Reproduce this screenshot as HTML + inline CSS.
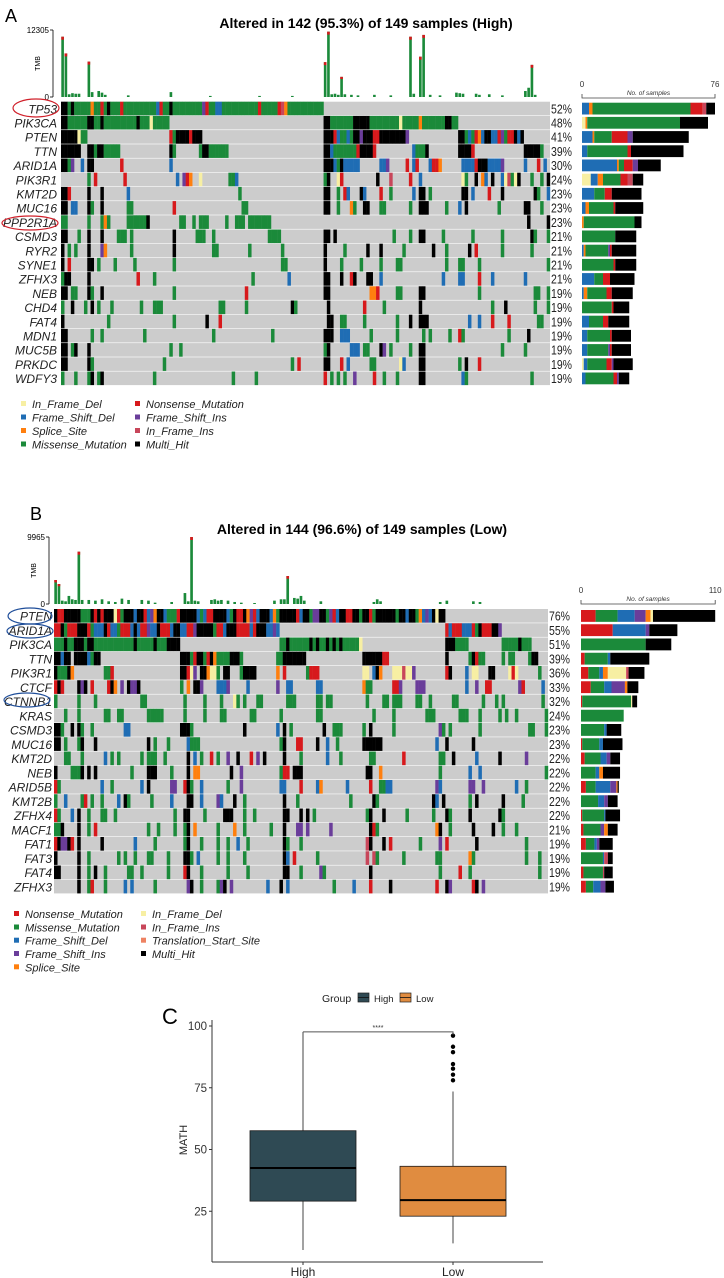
<!DOCTYPE html>
<html><head><meta charset="utf-8"><title>Oncoplots and MATH boxplot</title>
<style>
html,body{margin:0;padding:0;background:#fff;}
svg{display:block;font-family:"Liberation Sans",Arial,sans-serif;}
</style></head>
<body>
<svg id="fig" width="724" height="1278" viewBox="0 0 724 1278" xmlns="http://www.w3.org/2000/svg">
<rect x="0" y="0" width="724" height="1278" fill="#fff"/>
<text x="5" y="22" font-size="18">A</text>
<text x="366" y="28" font-size="14" font-weight="bold" text-anchor="middle">Altered in 142 (95.3%) of 149 samples (High)</text>
<text x="30" y="520" font-size="18">B</text>
<text x="362" y="534" font-size="14" font-weight="bold" text-anchor="middle">Altered in 144 (96.6%) of 149 samples (Low)</text>
<g id="panelA"></g>
<g id="panelB"></g>
<g id="panelC"></g>
</svg>
<script>
// ---------------- DATA ----------------
const N = 149;
const genesA = ["TP53","PIK3CA","PTEN","TTN","ARID1A","PIK3R1","KMT2D","MUC16","PPP2R1A","CSMD3","RYR2","SYNE1","ZFHX3","NEB","CHD4","FAT4","MDN1","MUC5B","PRKDC","WDFY3"];
const pctA = [52,48,41,39,30,24,23,23,23,21,21,21,21,19,19,19,19,19,19,19];
const rowsA = [
"0-1:k 2:g 3:k 4-8:g 9:o 10-11:g 12:r 13:g 14:k 15-17:g 18:r 19-28:g 29:b 30:r 31-32:g 33:k 34-42:g 43:p 44:r 45-46:g 47-48:b 49-59:g 60:r 61-65:g 66:r 67:m 68:o 69-79:g",
"0-1:k 2-7:g 8-9:k 10-11:g 12:k 13-22:g 23:k 24-26:g 27:y 28-32:g 80-81:k 82-88:g 89-93:k 94-102:g 103:y 104-108:g 109:o 110-116:g 117-118:k 119-120:g",
"0-4:k 5:y 6-7:g 33:r 34:g 35-38:k 39:r 40-42:k 80-82:k 83:r 84:b 85-86:g 87:b 88:g 89-90:k 91:p 92-94:k 95-96:r 97-104:k 105:p 121-122:k 123:g 124:b 125:g 126:r 127:o 128:b 129-130:k 131-132:b 133:r 134:p 135:g 136-137:r 138:k 139:b 140:k",
"0-5:k 8-9:k 10:g 11-12:k 13-17:g 33:k 34:g 42:g 43-44:k 45-50:g 80-81:k 82:b 83-89:g 90:r 91-94:k 95:r 107:b 108-110:g 111:k 121-124:k 125:r 141-145:k 146:g",
"0-1:k 2:g 3:p 6:b 8-9:k 18:r 33:b 80-82:k 83:b 84:g 85:k 86-90:b 97-98:b 99:p 105:r 107:b 108:r 112:b 113-114:r 115:o 122-125:b 126:r 127-129:k 130-133:b 134:p 141:b 145:r 147:b",
"8:g 10:r 19:r 35:b 37:p 38:r 39:o 42:y 51-52:g 53:b 80:g 81:k 84:y 85:r 96:k 100:m 106:r 109:b 122:y 123:g 126:k 128:o 129:b 131:k 134:b 135:y 136:m 137:g 138:y 139:k 143:g 146:g 148:k",
"0-1:k 2:r 8:k 12:k 20:b 54:g 80-81:k 84:g 86:r 87:b 91:k 92:b 97:r 100:g 107:b 109-110:k 112:g 122-123:k 125:b 130:r 134:k 144:k 145:g 148:b",
"0-1:k 3-4:b 8:k 9:g 12:k 20-21:g 34:r 55-56:g 80-81:k 84:g 88:o 89:g 92-93:k 97-98:g 106:g 109-111:k 117:g 121:b 123:k 133:g 141-142:k 146:g",
"0-1:g 8:g 12:g 13:o 14:g 20-25:g 26:k 36-37:g 40:g 42-44:g 50:g 53-55:g 57-63:g 142:k 148:k",
"0-1:k 5:g 8:k 12:k 17-19:g 21:g 34:k 41-43:g 46:g 63-66:g 80-81:k 83:k 101:g 106:g 109-110:k 116:g 125:g 134:g 143:k 144:g 148:g",
"0:k 2:g 4:g 8:k 12:p 13:o 21:g 34:k 46-47:g 57:g 67:g 80:k 86:g 93:k 97:k 104:g 113:k 117:g 124:k 126:r 134:g 143:g",
"0:k 2:r 8-9:k 11:g 16:g 22:g 34:g 67-68:g 80:k 85:g 91:g 97:g 102-103:g 117:g 121-122:g 127:g 148:g",
"0:g 1-2:k 8:k 23:r 28:g 58:g 69:b 80-81:k 85:k 88:r 89:k 93-94:k 97:b 116:b 121-122:b 127:r 131:b 141:b",
"0-1:k 3-4:g 8:k 9:g 12:k 34:g 56:r 80-81:k 94-95:o 96:r 102-103:g 109-110:k 127:g 144-145:g 148:g",
"0:g 3:k 7:g 9:k 11:g 15:g 24:g 28-30:g 48-49:g 56:g 70:k 71:g 81:k 92:r 98:g 109:k 131:g 135:k 144:g 148:g",
"0:k 14:g 34:g 44:k 48:r 81-82:k 85-86:g 92:g 102:g 106:k 109-111:k 124:b 127:b 131:r 136:r 145-146:g",
"0-1:k 9:g 12:g 25:g 46:g 64:g 80-82:k 85-87:b 94:g 102:g 110:g 112:g 118:g 121:r 122:g 136:g 142:k",
"0-1:k 3:g 4:k 8:k 33:g 36:g 80:g 81:k 88-90:b 92-93:g 97:k 98:p 100:g 106:g 109-110:k 134:g 141:g",
"0-1:k 8:k 9:g 31:g 70:g 72:r 80-81:k 85:r 87:b 94-95:g 103:y 104:b 109-110:k 121:g 123:k 127:r",
"0:g 4:g 8:g 9:k 11:g 12:k 28:g 52:g 59:g 80:r 82:g 84:g 86:g 89:p 95:r 98:g 102:g 109-110:k 122:b 123:g 143:g"
];
const barsA = ["b4 o2 g56 r7 m2 k5","y2 o1 g53 k16","b6 o1 g10 r9 p3 k32","b3 g23 r2 k30","b20 o1 g3 r5 p3 k13","y5 b4 o3 g10 r4 m3 k6","b7 g6 r4 k17","b2 o2 g14 r1 k16","o1 g29 k4","g19 k12","b1 o1 g13 p1 r1 k14","g18 r1 k12","b7 g5 r4 k14","b1 o2 g11 r3 k12","g17 r1 k9","b4 g8 r3 k12","b3 g13 r1 k11","b3 g12 p1 r1 k11","y1 b2 g11 r3 p1 k11","b2 g16 r2 p1 k6"];
const tmbA = [[0,11070],[1,8000],[2,500],[3,700],[4,600],[5,600],[8,6500],[9,900],[11,1100],[12,800],[13,400],[20,300],[33,900],[45,200],[60,200],[70,200],[80,6400],[81,12000],[82,500],[83,600],[84,400],[85,3700],[86,500],[88,400],[90,300],[95,400],[100,300],[106,11070],[107,600],[109,7400],[110,11400],[112,400],[115,300],[120,800],[121,700],[122,600],[126,600],[127,400],[130,500],[134,300],[141,1100],[142,1700],[143,5900],[144,400]];
const tmbAMax = 12305;

const genesB = ["PTEN","ARID1A","PIK3CA","TTN","PIK3R1","CTCF","CTNNB1","KRAS","CSMD3","MUC16","KMT2D","NEB","ARID5B","KMT2B","ZFHX4","MACF1","FAT1","FAT3","FAT4","ZFHX3"];
const pctB = [76,55,51,39,36,33,32,24,23,23,22,22,22,22,22,21,19,19,19,19];
const rowsB = [
"0:k 1-2:r 3-7:k 8-10:g 11:k 12:r 13:k 14:r 15-17:k 18:y 19:r 20:g 21-23:k 24:b 25-26:k 27:r 28:b 29:p 30:o 31-32:k 33:b 34-36:g 37:r 38-42:k 43:b 44:g 45:b 46-47:r 48-51:k 52:b 53:g 54:k 55-56:r 57:k 58:o 59:p 60:r 61:b 62-64:k 65:b 66:o 67:g 68-72:k 73:r 74:b 75-76:k 77:g 78-79:p 80-81:k 82:g 83:p 84:r 85:b 86-87:k 88-89:r 90-91:k 92:g 93-94:k 95:r 96:g 97-102:k 103:g 104-105:k 106:b 107-108:k 109:g 110:o 111:b 112:p 113:b 114:k 115:y 116-117:k",
"0-1:r 2:k 3:g 4-6:r 7-9:k 10:r 11:g 12-14:b 15:k 16:r 17-18:b 19:g 20-22:r 23:b 24:k 25:b 26-27:r 28:p 29-30:b 31:k 32-34:r 35:b 36-37:k 38-39:b 40-41:r 42:p 43-47:k 48:g 49-50:r 51:b 52-54:k 55-58:r 59:b 60:r 61-63:k 64-65:b 66:p 67:b 118:r 119:b 120-122:r 123-125:b 126:r 127:g 128:k 129-131:r 132-133:k 134:p",
"0-2:g 3:k 4-5:g 6-8:k 9:g 10-11:k 12-33:g 24:k 30:k 34-37:k 68-69:g 70:k 71-76:g 77:k 78:g 79:k 80-81:g 82:k 83:g 84:k 85:g 86:k 87-91:g 92:y 118-120:k 121-124:g 135-139:g 140:k 141-143:g",
"0-1:k 2:b 3-4:k 6-9:k 10:b 11:g 12-13:k 38-40:k 41:g 42:r 43-44:k 45:g 46:r 47:k 48:o 49-52:g 53-55:k 56:g 67-68:g 69-75:k 93-98:k 99-100:r 118:k 125:g 126:k 127:r 128-129:g 135:g 137-138:g 143:g 144-145:k",
"0:k 1-3:g 4:k 5:o 15:g 16:g 17:r 38-39:k 40:r 41:y 42:p 44-45:k 46:o 47-48:y 49:g 51-52:k 56:g 57-60:k 67:o 69:r 76:g 77-79:r 93-94:y 96:b 97:k 98:o 102-104:y 105:m 106-107:y 108:p 118:r 119:k 124:b 126-127:y 131-132:k 137:y 138:r 139:y 146:g",
"0:r 1:k 2:r 7:k 8:p 9:k 11:r 16:r 17:k 18:o 20:p 22:k 23-24:p 25:k 38:g 40:o 42-43:k 44:p 49-51:b 52:p 58:b 67:p 70-71:b 79-80:b 93:o 94-95:g 102-103:r 104:p 109-111:p 124:b 127:p 130-131:r 140:p 141:r 147:b",
"0:g 7:g 12:g 26-27:g 39:g 45:g 50:g 54:y 55:g 57:g 61-62:g 70-72:g 79-80:g 82-83:g 94:g 99-100:g 102-104:g 109-110:g 113:g 120-121:g 129:g 133:g 135:g 147:g",
"3:g 7:g 15-16:g 19-20:g 28-32:g 39:g 45:g 50-51:g 59-60:g 68:g 79-80:g 96:g 102:g 112-114:g 122-124:g 128:g 134:g 136:g 139:g 148:g",
"0-1:k 2:g 5:k 7:k 8:g 11:g 21-22:b 38-40:k 41:g 57:k 67:b 69:k 71:g 81:k 84-86:g 93:g 95:k 102:g 116:p 117:g 119:g 128:g 143-144:g 148:g",
"0-1:k 3:g 7:g 8:k 12:k 28:k 30:g 34:g 40:b 41-43:g 68:g 69:k 73-74:r 79:k 82:b 85:g 93-98:k 115:b 118:k 126:k",
"3-4:g 8:g 15:b 17:g 19:g 26:g 28-30:g 33:g 40:k 42:b 44:g 47:r 49:g 52:p 55:k 59:r 61:p 63:k 69:k 74:g 82:b 86:g 95-96:g 105:r 116-117:g 120:k 127:b 134:k 142:p",
"0:k 5-7:g 8:k 10:k 12:k 23:g 28-30:k 35:g 40:k 42-43:o 53:k 56:p 68:g 69-70:r 72-74:k 94-95:k 98:o 116:g 125:b 128:b 148:g",
"0:r 1:g 14:b 17:g 26:b 28:k 35-36:p 39:r 40:k 41:g 44:b 52:g 56:p 68-69:b 74:r 79:b 80:o 88:b 95:r 98-99:g 100-101:b 115:p 116:b 125-126:p 129:p 139:b 142:g",
"0:g 3:b 8:g 9:r 11:g 14:g 19:b 21:k 22:g 29:g 35:b 40-41:k 44:b 49:p 50:b 54:k 57:g 69:k 73:g 89:g 96:k 97:g 114:k 115:b 117:k 125:g 127:k 135:k 141:g",
"0:r 1:g 5:b 7:k 10:g 14-15:g 18:g 36:g 39:k 40:k 45:g 51-53:k 57:g 60:g 69:k 70:k 74:k 76:k 78:g 94:g 95:k 99:k 106:g 114:g 118:k 119:g 125:k 134:k 135:g",
"0-1:g 2:k 7:k 10:g 12:r 28:g 31:g 36:g 39:g 40:k 42:o 49:g 54:o 57:g 65:g 69:k 73-74:p 76:p 83:p 95:k 96:r 97:g 115:o 116:k 119:g 126:k 132:k 135:g 139:g",
"0:r 1:k 2-3:p 4:k 5:r 7:k 14:k 24:b 30:g 39:g 40:k 44:g 49:g 52:g 55:b 58:g 69:k 70:g 74:g 94:m 95:k 99:k 101:r 110:g 116:p 118:r 127:k 142:g",
"0:k 7:k 10:g 19:g 21:g 24:g 28-29:g 34:g 39-40:k 41:g 43:b 49:g 52:g 57:g 69:k 70:b 72:r 79:g 94:m 96:m 97:g 105:g 115-116:g 125:o 126:g 142:g 146:g",
"0-1:k 7:k 10:g 12:k 15:g 22-23:g 26:g 34:g 39:r 40:k 44:g 52:g 58:g 69:k 70:k 74:g 80:p 81:g 95:k 116:g 122:r 125:g 146:g",
"7:k 10:g 11:r 15:g 21:b 23:b 30:g 40:p 41:k 44:g 49:g 50:p 51:k 53:p 64:b 68:k 70:b 84:g 90:b 95:r 101:k 115:r 118:k 119:p 126:r 127:k 129:p"
];
const barsB = ["r12 g18 b14 p9 o4 y2 k51","r26 b27 p3 k23","g53 k21","r3 g19 b2 k32","r6 g9 b3 o4 y15 m2 k13","r8 g11 b6 p11 o2 k9","r1 g40 y1 k4","g35","g19 b2 k12","r1 g14 b3 k16","r3 g13 b5 p3 k8","g12 b3 o3 k14","r4 g8 b12 p5 o1 k1","g14 b5 p3 k8","r1 g18 b1 k12","r2 g14 p3 o3 k8","r4 g7 b2 p2 k11","g18 b1 m3 k4","r2 g16 m1 k7","r4 g6 b6 p4 k7"];
const tmbB = [[0,3570],[1,2970],[2,500],[3,400],[4,1200],[5,700],[6,600],[7,7780],[8,600],[10,600],[12,500],[14,700],[16,400],[18,300],[20,800],[22,600],[26,600],[28,500],[30,200],[35,300],[39,1630],[40,400],[41,9965],[42,500],[43,400],[47,600],[48,700],[49,500],[50,600],[52,500],[54,300],[56,200],[60,150],[66,500],[68,700],[69,700],[70,4160],[72,900],[73,800],[74,1200],[75,500],[80,400],[96,300],[97,700],[98,400],[116,300],[118,500],[126,400],[128,300]];
const tmbBMax = 9965;

// Boxplot data (MATH)
const groups = ["High","Low"];
const boxStats = [ // [min, q1, median, q3, max]
  [9.3, 29.1, 42.5, 57.6, 97.6],
  [12, 23, 29.5, 43.2, 73.5]
];
const outliersLow = [96.1, 91.6, 89.4, 84.6, 82.7, 80.3, 78.0];
const yTicks = [25, 50, 75, 100];

// ---------------- RENDER ----------------
const NS = "http://www.w3.org/2000/svg";
const colors = {g:"#1b8a3a",k:"#000000",r:"#d7191c",b:"#1f6db4",p:"#6a3d9a",o:"#ff7f0e",y:"#f7efa3",m:"#c8465a",t:"#ee8262"};
function mk(tag, attrs, parent){
  const el = document.createElementNS(NS, tag);
  for (const k in attrs) el.setAttribute(k, attrs[k]);
  parent.appendChild(el);
  return el;
}
function parseRow(spec){
  const arr = new Array(N).fill('.');
  spec.split(' ').forEach(tok => {
    if(!tok) return;
    const parts = tok.split(':');
    const rg = parts[0].split('-').map(Number);
    const a = rg[0], b = rg.length > 1 ? rg[1] : rg[0];
    for (let i = a; i <= b; i++) if (i < N) arr[i] = parts[1];
  });
  return arr;
}

function drawOncoplot(g, cfg, genes, rows, pcts, bars, tmb, tmbMax){
  const w = (cfg.x1 - cfg.x0) / N;
  const ax = mk('line',{x1:cfg.tmbAxisX,y1:cfg.tmbTop,x2:cfg.tmbAxisX,y2:cfg.tmbBot,stroke:'#000','stroke-width':0.8},g);
  
  
  [cfg.tmbTop, cfg.tmbBot].forEach((yy, j) => {
    const tk = mk('line',{x1:cfg.tmbAxisX-3,y1:yy,x2:cfg.tmbAxisX,y2:yy,stroke:'#000','stroke-width':0.8},g);
    
    
    const tl = mk('text',{x:cfg.tmbAxisX-4,y:yy+3,'font-size':8,'text-anchor':'end'},g);
    tl.textContent = j === 0 ? String(tmbMax) : '0';
    
    
  });
  const tt = mk('text',{x:0,y:0,'font-size':7,'text-anchor':'middle',transform:`translate(${cfg.tmbAxisX-13},${(cfg.tmbTop+cfg.tmbBot)/2}) rotate(-90)`},g);
  tt.textContent = 'TMB';
  
  
  const H = cfg.tmbBot - cfg.tmbTop;
  tmb.forEach(pair => {
    const i = pair[0], v = pair[1];
    const bh = v / tmbMax * H;
    const bx = cfg.x0 + i * w + 0.3;
    const bar = mk('rect',{x:bx,y:cfg.tmbBot-bh,width:w*0.8,height:bh,fill:colors.g},g);
    
    
    if (v > 2500){
      const cap = mk('rect',{x:bx,y:cfg.tmbBot-bh,width:w*0.8,height:Math.min(3,bh*0.06+1),fill:colors.r},g);
      
      
    }
  });
  genes.forEach((gene, r) => {
    const y = cfg.top + r * cfg.rh;
    const bg = mk('rect',{x:cfg.x0,y:y,width:cfg.x1-cfg.x0,height:cfg.rh-0.6,fill:'#cccccc'},g);
    
    
    const arr = parseRow(rows[r]);
    arr.forEach((c, i) => {
      if (c === '.') return;
      const cell = mk('rect',{x:cfg.x0+i*w,y:y,width:w+0.2,height:cfg.rh-0.6,fill:colors[c]},g);
      
      
    });
    const gl = mk('text',{x:cfg.labelX,y:y+cfg.rh/2+4.5,'font-size':12,'font-style':'italic','text-anchor':'end',fill:'#222'},g);
    gl.textContent = gene;
    
    
    const pl = mk('text',{x:cfg.pctX,y:y+cfg.rh/2+4.5,'font-size':12.5,textLength:21,lengthAdjust:'spacingAndGlyphs',fill:'#222'},g);
    pl.textContent = pcts[r] + '%';
    
    
    let cx = cfg.barX0;
    bars[r].split(' ').forEach(tok => {
      const c = tok[0], n = Number(tok.slice(1));
      const seg = mk('rect',{x:cx,y:y+1,width:n*cfg.barScale,height:cfg.rh-2.4,fill:colors[c]},g);
      
      
      cx += n * cfg.barScale;
    });
  });
  const ra = mk('path',{d:`M${cfg.barX0},${cfg.barAxisY-4}V${cfg.barAxisY}H${cfg.barX0+cfg.barMax*cfg.barScale}V${cfg.barAxisY-4}`,fill:'none',stroke:'#444','stroke-width':0.8},g);
  
  
  const r0 = mk('text',{x:cfg.barX0,y:cfg.barAxisY-11,'font-size':8,'text-anchor':'middle',fill:'#333'},g);
  r0.textContent = '0';
  
  
  const r1 = mk('text',{x:cfg.barX0+cfg.barMax*cfg.barScale,y:cfg.barAxisY-11,'font-size':8,'text-anchor':'middle',fill:'#333'},g);
  r1.textContent = String(cfg.barMax);
  
  
  const rt = mk('text',{x:cfg.barX0+cfg.barMax*cfg.barScale/2,y:cfg.barAxisY-3,'font-size':6.5,'font-style':'italic','text-anchor':'middle',fill:'#333'},g);
  rt.textContent = 'No. of samples';
  
  
  cfg.ellipses.forEach(e => {
    const el = mk('ellipse',{cx:e[0],cy:e[1],rx:e[2],ry:e[3],fill:'none',stroke:cfg.ellipseColor,'stroke-width':1.2},g);
    
    
  });
  cfg.legend.forEach(it => {
    const sq = mk('rect',{x:it[0],y:it[1]-3,width:5,height:5,fill:colors[it[3]]},g);
    
    
    const tx = mk('text',{x:it[0]+11,y:it[1]+4,'font-size':11,'font-style':'italic',fill:'#222'},g);
    tx.textContent = it[2];
    
    
  });
}

drawOncoplot(document.getElementById('panelA'), {
  x0:61, x1:550, top:101.7, rh:14.2, labelX:57, pctX:551,
  tmbAxisX:53, tmbTop:30, tmbBot:97,
  barX0:582, barScale:1.75, barMax:76, barAxisY:98,
  ellipseColor:'#d0202a',
  ellipses:[[36,108,23,9],[30,223,28,7]],
  legend:[[21,404,'In_Frame_Del','y'],[21,417.5,'Frame_Shift_Del','b'],[21,431,'Splice_Site','o'],[21,444.5,'Missense_Mutation','g'],
          [135,404,'Nonsense_Mutation','r'],[135,417.5,'Frame_Shift_Ins','p'],[135,431,'In_Frame_Ins','m'],[135,444.5,'Multi_Hit','k']]
}, genesA, rowsA, pctA, barsA, tmbA, tmbAMax);

drawOncoplot(document.getElementById('panelB'), {
  x0:54, x1:548, top:609, rh:14.25, labelX:52, pctX:549,
  tmbAxisX:49, tmbTop:537, tmbBot:604,
  barX0:581, barScale:1.22, barMax:110, barAxisY:604,
  ellipseColor:'#1f4e9a',
  ellipses:[[30,616,22,8],[30,631,23,7],[27,700,23,7]],
  legend:[[14,914,'Nonsense_Mutation','r'],[14,927.5,'Missense_Mutation','g'],[14,940.7,'Frame_Shift_Del','b'],[14,954,'Frame_Shift_Ins','p'],[14,967.3,'Splice_Site','o'],
          [141,914,'In_Frame_Del','y'],[141,927.5,'In_Frame_Ins','m'],[141,940.7,'Translation_Start_Site','t'],[141,954,'Multi_Hit','k']]
}, genesB, rowsB, pctB, barsB, tmbB, tmbBMax);

// ---------------- PANEL C ----------------
(function(){
  const g = document.getElementById('panelC');
  const yScale = v => 1026 + (100 - v) * 2.47;
  const xCenters = [303, 453];
  const halfW = 53;
  const fills = ["#2f4a54", "#e08c40"];
  const lab = mk('text',{x:162,y:1024,'font-size':22},g);
  lab.textContent = 'C';
  
  
  const lt = mk('text',{x:322,y:1002,'font-size':10.5,fill:'#222'},g);
  lt.textContent = 'Group';
  
  
  [[358,'High',0],[400,'Low',1]].forEach(it => {
    const kb = mk('rect',{x:it[0],y:993,width:11,height:9,fill:fills[it[2]],stroke:'#222','stroke-width':0.7},g);
    
    
    const kl = mk('line',{x1:it[0],y1:997.5,x2:it[0]+11,y2:997.5,stroke:'#111','stroke-width':0.8},g);
    
    
    const kt = mk('text',{x:it[0]+16,y:1002,'font-size':9.5,fill:'#222'},g);
    kt.textContent = it[1];
    
    
  });
  const ya = mk('line',{x1:212,y1:1020,x2:212,y2:1262,stroke:'#333','stroke-width':1},g);
  
  
  const xa = mk('line',{x1:212,y1:1262,x2:543,y2:1262,stroke:'#333','stroke-width':1},g);
  
  
  yTicks.forEach(t => {
    const yy = yScale(t);
    const tk = mk('line',{x1:209,y1:yy,x2:212,y2:yy,stroke:'#333'},g);
    
    
    const tl = mk('text',{x:207,y:yy+4,'font-size':11.5,'text-anchor':'end',fill:'#333'},g);
    tl.textContent = String(t);
    
    
  });
  const yt = mk('text',{x:0,y:0,'font-size':11,'text-anchor':'middle',fill:'#222',transform:'translate(187,1140) rotate(-90)'},g);
  yt.textContent = 'MATH';
  
  
  groups.forEach((grp, j) => {
    const cx = xCenters[j];
    const s = boxStats[j];
    const tk = mk('line',{x1:cx,y1:1262,x2:cx,y2:1265,stroke:'#333'},g);
    
    
    const xl = mk('text',{x:cx,y:1276,'font-size':12,'text-anchor':'middle',fill:'#222'},g);
    xl.textContent = grp;
    
    
    const wk = mk('line',{x1:cx,y1:yScale(s[0]),x2:cx,y2:yScale(s[4]),stroke:'#444','stroke-width':1},g);
    
    
    const bx = mk('rect',{x:cx-halfW,y:yScale(s[3]),width:halfW*2,height:yScale(s[1])-yScale(s[3]),fill:fills[j],stroke:'#1a1a1a','stroke-width':0.8},g);
    
    
    const md = mk('line',{x1:cx-halfW,y1:yScale(s[2]),x2:cx+halfW,y2:yScale(s[2]),stroke:'#000','stroke-width':2},g);
    
    
  });
  outliersLow.forEach(v => {
    const pt = mk('circle',{cx:xCenters[1],cy:yScale(v),r:2.2,fill:'#000'},g);
    
    
  });
  const br = mk('path',{d:`M${xCenters[0]},${yScale(97.6)}H${xCenters[1]}V${yScale(96.5)}`,fill:'none',stroke:'#555','stroke-width':1},g);
  
  
  const st = mk('text',{x:(xCenters[0]+xCenters[1])/2,y:yScale(97.6)-2,'font-size':7,'text-anchor':'middle',fill:'#333'},g);
  st.textContent = '****';
  
  
})();
</script>
</body></html>
